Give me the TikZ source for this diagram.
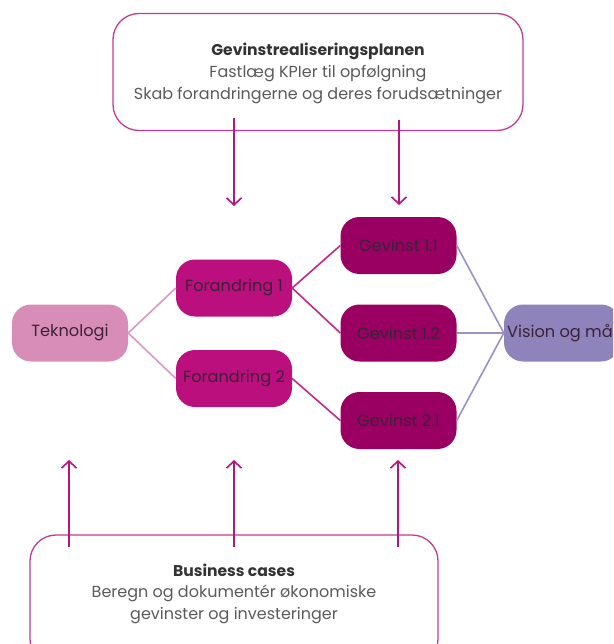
\documentclass[tikz,border=0pt]{standalone}
\usepackage{fontspec}
\setmainfont{Poppins}
\usetikzlibrary{arrows.meta}
\definecolor{boxline}{HTML}{C23A93}
\definecolor{arrowc}{HTML}{B8137F}
\definecolor{tek}{HTML}{D88DB8}
\definecolor{fora}{HTML}{BA0F7C}
\definecolor{gev}{HTML}{990062}
\definecolor{vis}{HTML}{8F83BC}
\definecolor{txtdark}{HTML}{3B2238}
\definecolor{txttitle}{HTML}{333333}
\definecolor{txtgray}{HTML}{5A5A5C}
\definecolor{lnpink}{HTML}{DE97C3}
\definecolor{lnmag}{HTML}{C0288C}
\definecolor{lnpur}{HTML}{9C90C6}
\begin{document}
\begin{tikzpicture}[x=1pt,y=-1pt,
  stepbox/.style={rounded corners=19pt, minimum width=116pt, minimum height=57pt, inner sep=0pt, font=\fontsize{16.2}{18}\selectfont, text=txtdark},
  infobox/.style={draw=boxline, line width=1.3pt, rounded corners=26pt, inner sep=0pt},
  arr/.style={draw=arrowc, line width=1.6pt, -{Straight Barb[length=7pt,width=15pt]}},
  ttl/.style={font=\fontsize{15.6}{18}\selectfont\bfseries, text=txttitle, inner sep=0pt},
  sub/.style={font=\fontsize{16}{18}\selectfont, text=txtgray, inner sep=0pt},
]
\useasboundingbox (0,0) rectangle (613,644);
\clip (0,0) rectangle (613,644);
% info boxes
\node[infobox, minimum width=410pt, minimum height=117pt] (plan) at (318,72) {};
\node[infobox, minimum width=408pt, minimum height=130pt] (bc) at (234,600) {};
\node[ttl] (plant) at (318,51) {Gevinstrealiseringsplanen};
\node[sub] (plan2) at (318,74) {Fastlæg KPIer til opfølgning};
\node[sub] (plan3) at (318,96) {Skab forandringerne og deres forudsætninger};
\node[ttl] (bct) at (234,570) {Business cases};
\node[sub] (bc2) at (234,593) {Beregn og dokumentér økonomiske};
\node[sub] (bc3) at (234,616) {gevinster og investeringer};
% step nodes
\node[stepbox, fill=tek] (tek) at (70,333) {Teknologi};
\node[stepbox, fill=fora] (f1) at (234,288) {Forandring 1};
\node[stepbox, fill=fora] (f2) at (234,378.5) {Forandring 2};
\node[stepbox, fill=gev] (g1) at (398.5,245.5) {Gevinst 1.1};
\node[stepbox, fill=gev] (g2) at (398.5,333) {Gevinst 1.2};
\node[stepbox, fill=gev] (g3) at (398.5,420.5) {Gevinst 2.1};
\node[stepbox, fill=vis] (vis) at (562,333) {Vision og mål};
% connectors
\draw[lnpink, line width=1.6pt] (tek.east) -- (f1.west);
\draw[lnpink, line width=1.6pt] (tek.east) -- (f2.west);
\draw[lnmag, line width=1.6pt] (f1.east) -- (g1.west);
\draw[lnmag, line width=1.6pt] (f1.east) -- (g2.west);
\draw[lnmag, line width=1.6pt] (f2.east) -- (g3.west);
\draw[lnpur, line width=1.6pt] (g1.east) -- (vis.west);
\draw[lnpur, line width=1.6pt] (g2.east) -- (vis.west);
\draw[lnpur, line width=1.6pt] (g3.east) -- (vis.west);
% arrows
\coordinate (pa1) at (234,118); \coordinate (pb1) at (234,206);
\coordinate (pa2) at (399,120); \coordinate (pb2) at (399,205);
\draw[arr] (pa1) -- (pb1);
\draw[arr] (pa2) -- (pb2);
\coordinate (ba1) at (69,547); \coordinate (bb1) at (69,460);
\coordinate (ba2) at (234,547); \coordinate (bb2) at (234,460);
\coordinate (ba3) at (398,547); \coordinate (bb3) at (398,460);
\draw[arr] (ba1) -- (bb1);
\draw[arr] (ba2) -- (bb2);
\draw[arr] (ba3) -- (bb3);
\end{tikzpicture}
\end{document}
